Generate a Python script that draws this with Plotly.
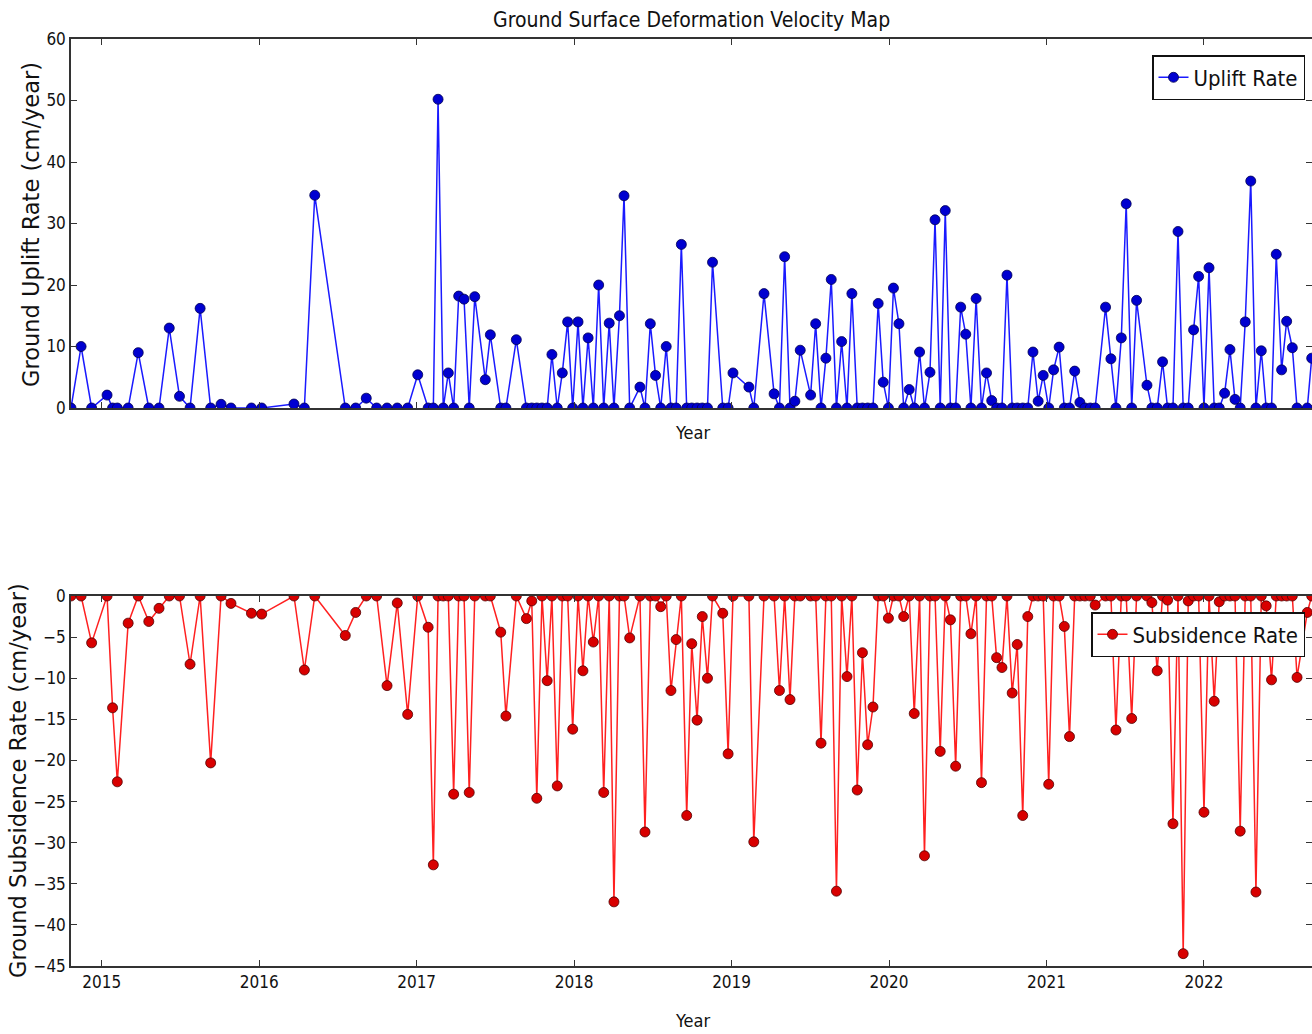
import plotly.graph_objects as go

# Acquisition dates (decimal years) shared by both panels
years = [
    2014.805, 2014.869, 2014.936, 2015.034, 2015.069, 2015.099, 2015.168, 2015.232, 2015.299, 2015.364,
    2015.429, 2015.494, 2015.561, 2015.625, 2015.692, 2015.758, 2015.821, 2015.951, 2016.016, 2016.221,
    2016.287, 2016.353, 2016.547, 2016.613, 2016.680, 2016.746, 2016.812, 2016.877, 2016.943, 2017.007,
    2017.073, 2017.106, 2017.136, 2017.169, 2017.201, 2017.235, 2017.267, 2017.301, 2017.334, 2017.369,
    2017.436, 2017.468, 2017.534, 2017.567, 2017.633, 2017.697, 2017.731, 2017.763, 2017.796, 2017.829,
    2017.859, 2017.893, 2017.925, 2017.959, 2017.991, 2018.025, 2018.056, 2018.089, 2018.122, 2018.156,
    2018.188, 2018.223, 2018.253, 2018.288, 2018.317, 2018.353, 2018.418, 2018.450, 2018.484, 2018.517,
    2018.550, 2018.585, 2018.615, 2018.648, 2018.681, 2018.715, 2018.747, 2018.781, 2018.814, 2018.847,
    2018.879, 2018.944, 2018.978, 2019.009, 2019.110, 2019.141, 2019.206, 2019.270, 2019.304, 2019.337,
    2019.371, 2019.402, 2019.436, 2019.502, 2019.534, 2019.568, 2019.599, 2019.633, 2019.666, 2019.699,
    2019.733, 2019.764, 2019.798, 2019.831, 2019.864, 2019.898, 2019.931, 2019.963, 2019.996, 2020.028,
    2020.063, 2020.093, 2020.128, 2020.160, 2020.194, 2020.225, 2020.260, 2020.292, 2020.325, 2020.357,
    2020.390, 2020.423, 2020.455, 2020.487, 2020.520, 2020.553, 2020.587, 2020.619, 2020.652, 2020.683,
    2020.717, 2020.749, 2020.782, 2020.814, 2020.849, 2020.881, 2020.914, 2020.947, 2020.979, 2021.014,
    2021.045, 2021.080, 2021.113, 2021.146, 2021.179, 2021.212, 2021.244, 2021.278, 2021.309, 2021.375,
    2021.409, 2021.441, 2021.475, 2021.506, 2021.541, 2021.572, 2021.638, 2021.669, 2021.703, 2021.737,
    2021.769, 2021.803, 2021.835, 2021.868, 2021.900, 2021.934, 2021.966, 2022.000, 2022.032, 2022.065,
    2022.097, 2022.131, 2022.165, 2022.197, 2022.230, 2022.262, 2022.297, 2022.330, 2022.364, 2022.395,
    2022.429, 2022.459, 2022.493, 2022.525, 2022.561, 2022.591, 2022.656, 2022.684,
]

uplift = [
    0, 10.0, 0, 2.1, 0, 0, 0, 9.0, 0, 0,
    13.0, 1.9, 0, 16.2, 0, 0.6, 0, 0, 0, 0.65,
    0, 34.6, 0, 0, 1.6, 0, 0, 0, 0, 5.4,
    0, 0, 50.2, 0, 5.7, 0, 18.2, 17.7, 0, 18.1,
    4.6, 11.9, 0, 0, 11.1, 0, 0, 0, 0, 0,
    8.7, 0, 5.7, 14.0, 0, 14.0, 0, 11.4, 0, 20.0,
    0, 13.8, 0, 15.0, 34.5, 0, 3.4, 0, 13.7, 5.3,
    0, 10.0, 0, 0, 26.6, 0, 0, 0, 0, 0,
    23.7, 0, 0, 5.7, 3.4, 0, 18.6, 2.3, 0, 24.6,
    0, 1.1, 9.4, 2.1, 13.7, 0, 8.1, 20.9, 0, 10.8,
    0, 18.6, 0, 0, 0, 0, 17.0, 4.2, 0, 19.5,
    13.7, 0, 3.0, 0, 9.1, 0, 5.8, 30.6, 0, 32.1,
    0, 0, 16.4, 12.0, 0, 17.8, 0, 5.7, 1.2, 0,
    0, 21.6, 0, 0, 0, 0, 9.1, 1.1, 5.3, 0,
    6.2, 9.9, 0, 0, 6.0, 0.9, 0, 0, 0, 16.4,
    8.0, 0, 11.4, 33.2, 0, 17.5, 3.7, 0, 0, 7.5,
    0, 0, 28.7, 0, 0, 12.7, 21.4, 0, 22.8, 0,
    0, 2.4, 9.5, 1.4, 0, 14.0, 36.9, 0, 9.3, 0,
    0, 25.0, 6.2, 14.1, 9.8, 0, 0, 8.1,
]

subsidence = [
    0, 0, -5.7, 0, -13.6, -22.6, -3.3, 0, -3.1, -1.5,
    0, 0, -8.3, 0, -20.3, 0, -0.9, -2.1, -2.2, 0,
    -9.0, 0, -4.8, -2.0, 0, 0, -10.9, -0.85, -14.4, 0,
    -3.8, -32.7, 0, 0, 0, -24.1, 0, 0, -23.9, 0,
    0, 0, -4.4, -14.6, 0, -2.75, -0.6, -24.6, 0, -10.3,
    0, -23.1, 0, 0, -16.2, 0, -9.1, 0, -5.6, 0,
    -23.9, 0, -37.2, 0, 0, -5.1, 0, -28.7, 0, 0,
    -1.3, 0, -11.5, -5.3, 0, -26.7, -5.8, -15.1, -2.5, -10.0,
    0, -2.1, -19.2, 0, 0, -29.9, 0, 0, -11.5, 0,
    -12.6, 0, 0, 0, 0, -17.9, 0, 0, -35.9, 0,
    -9.8, 0, -23.6, -6.9, -18.1, -13.5, 0, 0, -2.7, 0,
    0, -2.5, 0, -14.3, 0, -31.6, 0, 0, -18.9, 0,
    -2.9, -20.7, 0, 0, -4.6, 0, -22.7, 0, 0, -7.5,
    -8.7, 0, -11.8, -5.9, -26.7, -2.5, 0, 0, 0, -22.9,
    0, 0, -3.7, -17.1, 0, 0, 0, 0, -1.1, 0,
    0, -16.3, 0, 0, -14.9, 0, 0, -0.8, -9.1, 0,
    -0.5, -27.7, 0, -43.5, -0.6, 0, 0, -26.3, 0, -12.8,
    -0.7, 0, 0, 0, -28.6, 0, 0, -36.0, 0, -1.2,
    -10.2, 0, 0, 0, 0, -9.9, -2.0, 0,
]

year_ticks = [2015, 2016, 2017, 2018, 2019, 2020, 2021, 2022]
year_labels = ["2015", "2016", "2017", "2018", "2019", "2020", "2021", "2022"]
uplift_ticks = [0, 10, 20, 30, 40, 50, 60]
subs_ticks = [0, -5, -10, -15, -20, -25, -30, -35, -40, -45]

W, H = 1312, 1034
COND = "DejaVu Sans Condensed, Liberation Sans Narrow, DejaVu Sans, sans-serif"
SANS = "DejaVu Sans, sans-serif"

fig = go.Figure()
fig.add_trace(go.Scatter(
    x=years, y=uplift, mode="lines+markers", name="Uplift Rate",
    line=dict(color="#1a1aff", width=1.5),
    marker=dict(color="#0000d0", size=10, line=dict(color="#000050", width=0.8)),
    xaxis="x", yaxis="y", legend="legend",
))
fig.add_trace(go.Scatter(
    x=years, y=subsidence, mode="lines+markers", name="Subsidence Rate",
    line=dict(color="#ff2020", width=1.5),
    marker=dict(color="#d80000", size=10, line=dict(color="#500000", width=0.8)),
    xaxis="x2", yaxis="y2", legend="legend2",
))

x0 = 71 / W
axis_common = dict(showline=True, linecolor="#333333", linewidth=1.5, mirror="ticks",
                   ticks="inside", ticklen=6, tickcolor="#333333", tickwidth=1,
                   showgrid=False, zeroline=False, automargin=False,
                   tickfont=dict(family=COND, size=17, color="#111111"))

fig.update_layout(
    width=W, height=H,
    margin=dict(l=0, r=0, t=0, b=0, autoexpand=False),
    paper_bgcolor="white", plot_bgcolor="white",
    showlegend=True,
    xaxis=dict(domain=[x0, 1.0], range=[2014.805, 2022.686], anchor="y",
               tickvals=year_ticks, ticktext=year_labels, showticklabels=False, **axis_common),
    yaxis=dict(domain=[1 - 408 / H, 1 - 39 / H], range=[0, 60], anchor="x",
               tickvals=uplift_ticks, **axis_common),
    xaxis2=dict(domain=[x0, 1.0], range=[2014.805, 2022.686], anchor="y2",
                tickvals=year_ticks, ticktext=year_labels, **axis_common),
    yaxis2=dict(domain=[1 - 966 / H, 1 - 596 / H], range=[-45, 0], anchor="x2",
                tickvals=subs_ticks, **axis_common),
    legend=dict(x=1305 / W, y=1 - 55 / H, xanchor="right", yanchor="top",
                bgcolor="white", bordercolor="#111111", borderwidth=1.5,
                font=dict(family=COND, size=22, color="#111111")),
    legend2=dict(x=1305 / W, y=1 - 612 / H, xanchor="right", yanchor="top",
                 bgcolor="white", bordercolor="#111111", borderwidth=1.5,
                 font=dict(family=COND, size=22, color="#111111")),
    annotations=[
        dict(text="Ground Surface Deformation Velocity Map", x=691.5 / W, y=1 - 20 / H,
             xref="paper", yref="paper", xanchor="center", yanchor="middle", showarrow=False,
             font=dict(family=COND, size=21, color="#111111")),
        dict(text="Year", x=692 / W, y=1 - 432 / H, xref="paper", yref="paper",
             xanchor="center", yanchor="middle", showarrow=False,
             font=dict(family=COND, size=18, color="#111111")),
        dict(text="Year", x=692 / W, y=1 - 1020 / H, xref="paper", yref="paper",
             xanchor="center", yanchor="middle", showarrow=False,
             font=dict(family=COND, size=18, color="#111111")),
        dict(text="Ground Uplift Rate (cm/year)", x=31 / W, y=1 - 225 / H, xref="paper", yref="paper",
             xanchor="center", yanchor="middle", showarrow=False, textangle=-90,
             font=dict(family=SANS, size=22.5, color="#111111")),
        dict(text="Ground Subsidence Rate (cm/year)", x=18 / W, y=1 - 781 / H, xref="paper", yref="paper",
             xanchor="center", yanchor="middle", showarrow=False, textangle=-90,
             font=dict(family=SANS, size=22.5, color="#111111")),
    ],
)

fig.write_html("out.html")
